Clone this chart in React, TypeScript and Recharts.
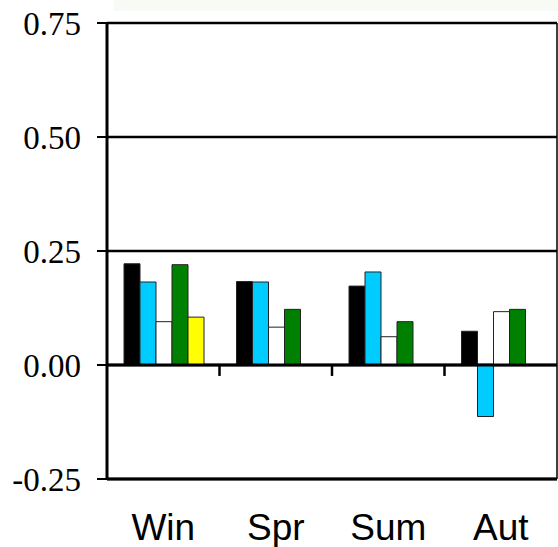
import React from 'react';
import { BarChart, Bar, XAxis, YAxis, CartesianGrid, ReferenceLine } from 'recharts';

const categories = ['Win', 'Spr', 'Sum', 'Aut'];
const seriesBlack = [0.222, 0.183, 0.173, 0.074];
const seriesCyan = [0.182, 0.182, 0.204, -0.113];
const seriesWhite = [0.095, 0.083, 0.062, 0.117];
const seriesGreen = [0.22, 0.122, 0.095, 0.122];
const seriesYellow: (number | null)[] = [0.105, null, null, null];
const yTicks = [-0.25, 0, 0.25, 0.5, 0.75];
const boundaryCats = ['Win', 'Spr', 'Sum'];

const data = categories.map((c, i) => ({
  cat: c,
  black: seriesBlack[i],
  cyan: seriesCyan[i],
  white: seriesWhite[i],
  green: seriesGreen[i],
  yellow: seriesYellow[i],
}));

export default function App() {
  return (
    <div style={{ position: 'absolute', left: 0, top: 0, width: 558, height: 547, background: '#fff' }}>
      <div style={{ position: 'absolute', left: 114, top: 0, width: 444, height: 11, background: '#f8faf5' }} />
      <div style={{ position: 'absolute', left: 0, top: 0 }}>
        <BarChart
          width={558}
          height={547}
          data={data}
          margin={{ top: 23, right: 1, left: 0, bottom: 0 }}
          barCategoryGap={17}
          barGap={0}
        >
          <CartesianGrid vertical={false} stroke="#000" strokeWidth={2.5} strokeOpacity={1} />
          <XAxis
            dataKey="cat"
            height={68}
            tickLine={false}
            tickSize={0}
            tickMargin={34.7}
            axisLine={{ stroke: '#000', strokeWidth: 3 }}
            tick={{ fill: '#000', fontSize: 37, fontFamily: 'Liberation Sans, Arial, sans-serif' }}
            interval={0}
          />
          <YAxis
            width={107}
            domain={[-0.25, 0.75]}
            ticks={yTicks}
            tickFormatter={(v: number) => v.toFixed(2)}
            tickSize={10}
            tickMargin={16}
            axisLine={{ stroke: '#000', strokeWidth: 3 }}
            tickLine={{ stroke: '#000', strokeWidth: 2 }}
            tick={{ fill: '#000', fontSize: 33, fontFamily: 'Liberation Serif, Times New Roman, serif' }}
            allowDataOverflow
          />
          <Bar dataKey="black" fill="#000000" stroke="#222" strokeWidth={1} isAnimationActive={false} />
          <Bar dataKey="cyan" fill="#00CCFF" stroke="#222" strokeWidth={1} isAnimationActive={false} />
          <Bar dataKey="white" fill="#FFFFFF" stroke="#222" strokeWidth={1} isAnimationActive={false} />
          <Bar dataKey="green" fill="#008000" stroke="#222" strokeWidth={1} isAnimationActive={false} />
          <Bar dataKey="yellow" fill="#FFFF00" stroke="#222" strokeWidth={1} isAnimationActive={false} />
          <ReferenceLine y={0} stroke="#000" strokeWidth={3} />
          {boundaryCats.map((c) => (
            <ReferenceLine
              key={c}
              segment={[{ x: c, y: 0 }, { x: c, y: -0.024 }]}
              position="end"
              stroke="#000"
              strokeWidth={2.5}
            />
          ))}
          <ReferenceLine x="Aut" position="end" stroke="#000" strokeWidth={1.5} />
        </BarChart>
      </div>
    </div>
  );
}
